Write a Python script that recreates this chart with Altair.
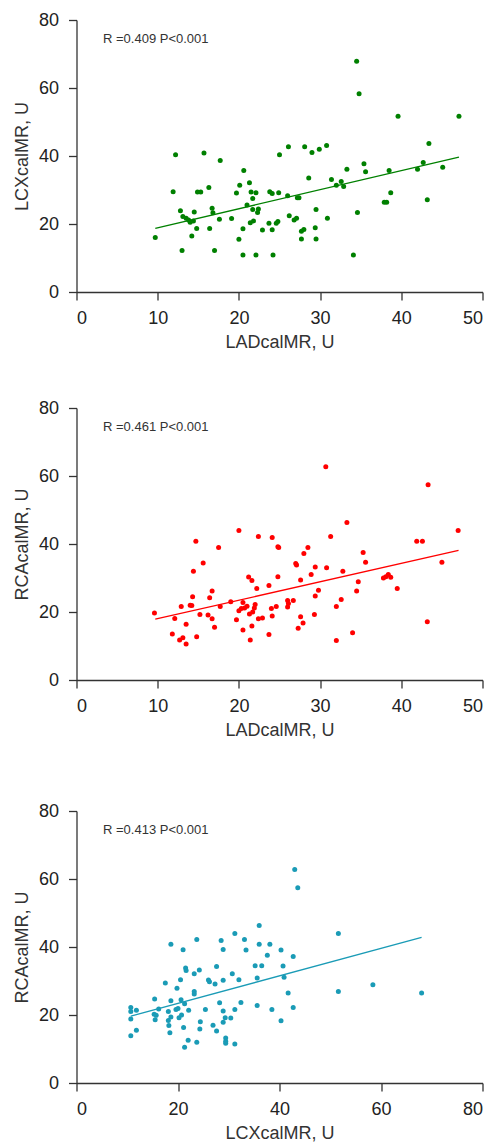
import altair as alt
import pandas as pd

# Panel 1: LADcalMR vs LCXcalMR
lad1 = [9.7, 11.9, 12.2, 12.8, 13.0, 13.1, 13.5, 13.8, 14.0, 14.4, 14.2, 14.5, 14.8, 14.9, 15.3,
        15.7, 16.3, 16.4, 16.7, 16.8, 17.0, 17.6, 17.7, 19.1, 19.7, 20.0, 20.1, 20.5, 20.6, 20.5,
        21.0, 21.3, 21.4, 21.5, 21.7, 21.7, 21.8, 22.1, 22.1, 22.3, 22.4, 22.9, 23.7, 23.8, 24.1,
        24.1, 24.2, 24.6, 24.8, 24.9, 25.0, 26.0, 26.1, 26.2, 26.8, 27.1, 27.2, 27.4, 27.7, 27.7,
        28.0, 28.1, 28.6, 29.0, 29.4, 29.5, 29.5, 29.9, 30.8, 30.9, 31.4, 32.0, 32.6, 32.9, 33.3,
        34.1, 34.5, 34.6, 34.8, 35.4, 35.6, 37.9, 38.2, 38.5, 38.7, 39.6, 42.0, 42.7, 43.2, 43.4,
        45.1, 47.1]
lcx1 = [16.0, 29.5, 40.4, 23.9, 12.2, 22.2, 21.7, 21.2, 20.5, 20.9, 16.5, 23.5, 18.7, 29.4, 29.4,
        40.9, 30.7, 18.7, 24.6, 23.3, 12.2, 21.4, 38.7, 21.6, 29.1, 15.5, 31.4, 18.6, 35.7, 10.9,
        25.6, 32.1, 20.4, 29.4, 27.5, 24.3, 20.9, 29.2, 10.9, 23.4, 24.4, 18.2, 20.2, 29.5, 29.0,
        18.3, 10.9, 20.2, 20.7, 29.2, 40.4, 28.3, 42.7, 22.4, 21.2, 21.7, 27.7, 27.7, 17.9, 15.6,
        18.4, 42.7, 33.5, 41.0, 18.9, 24.3, 15.6, 42.0, 43.1, 21.7, 33.1, 31.4, 32.5, 31.0, 36.1,
        10.9, 67.9, 23.4, 58.3, 37.7, 35.4, 26.4, 26.4, 35.7, 29.2, 51.7, 36.1, 38.1, 27.1, 43.7,
        36.7, 51.7]
fit1_x = [9.7, 47.1]
fit1_y = [18.7, 39.7]

# Panel 2: LADcalMR vs RCAcalMR
lad2 = [9.6, 11.8, 12.1, 12.7, 12.9, 13.1, 13.5, 13.5, 14.0, 14.2, 14.3, 14.4, 14.7, 14.8, 15.2,
        15.6, 16.2, 16.4, 16.7, 16.7, 17.0, 17.5, 17.7, 19.0, 19.7, 20.0, 20.0, 20.3, 20.5, 20.5,
        20.7, 21.0, 21.2, 21.3, 21.4, 21.6, 21.6, 21.7, 21.9, 22.0, 22.2, 22.4, 22.4, 22.9, 23.7,
        23.7, 24.0, 24.1, 24.1, 24.6, 24.8, 24.8, 24.9, 26.0, 26.0, 26.1, 26.7, 27.0, 27.1, 27.3,
        27.6, 27.6, 27.9, 28.0, 28.5, 28.9, 29.3, 29.4, 29.4, 29.8, 30.7, 30.8, 31.3, 32.0, 32.0,
        32.6, 32.8, 33.3, 34.0, 34.5, 34.7, 35.3, 35.6, 37.8, 38.1, 38.4, 38.7, 39.5, 41.9, 42.6,
        43.3, 43.2, 45.0, 47.0]
rca2 = [19.7, 13.5, 18.1, 11.8, 21.6, 12.4, 16.4, 10.6, 22.0, 21.9, 24.5, 32.0, 40.8, 12.7, 19.3,
        34.4, 19.1, 24.2, 18.0, 26.2, 15.5, 39.0, 21.6, 23.0, 17.7, 44.0, 20.4, 21.0, 22.8, 14.7,
        21.2, 21.7, 30.3, 19.4, 11.8, 29.3, 15.9, 20.0, 21.2, 22.2, 26.9, 42.2, 18.0, 18.2, 27.8,
        13.4, 21.0, 41.9, 18.8, 21.6, 30.4, 39.2, 39.0, 23.4, 21.5, 22.5, 23.4, 34.3, 33.8, 15.2,
        29.4, 18.6, 16.8, 37.2, 39.0, 31.0, 19.3, 24.7, 33.2, 26.4, 62.7, 33.0, 42.2, 21.6, 11.6,
        23.7, 32.0, 46.3, 13.9, 26.2, 28.9, 37.5, 34.6, 30.0, 30.4, 31.0, 30.2, 26.9, 40.8, 40.8,
        57.4, 17.1, 34.6, 44.0]
fit2_x = [9.7, 47.05]
fit2_y = [17.9, 38.1]

# Panel 3: LCXcalMR vs RCAcalMR
lcx3 = [10.7, 10.7, 10.7, 10.7, 11.8, 11.8, 15.4, 15.3, 15.5, 15.7, 16.2, 17.5, 18.1, 18.1, 18.2,
        18.4, 18.6, 18.6, 18.6, 19.8, 19.6, 20.0, 20.2, 20.5, 20.6, 20.7, 21.0, 21.1, 21.3, 21.3,
        21.5, 21.6, 22.0, 22.1, 23.2, 23.2, 23.2, 23.7, 23.7, 24.2, 24.3, 24.4, 25.4, 26.0, 26.2,
        26.9, 27.3, 27.6, 27.6, 28.2, 28.5, 28.9, 28.9, 28.9, 28.9, 29.3, 29.4, 29.4, 29.4, 30.4,
        30.7, 31.2, 31.2, 31.2, 32.0, 32.4, 33.1, 33.4, 35.2, 35.6, 35.6, 36.0, 36.0, 36.5, 37.6,
        38.1, 38.5, 40.3, 40.3, 40.7, 40.9, 41.7, 42.7, 42.7, 43.0, 43.6, 51.6, 51.6, 58.4, 68.0]
rca3 = [22.2, 21.0, 18.8, 13.9, 21.4, 15.5, 24.7, 20.2, 18.6, 19.9, 21.8, 29.4, 21.0, 18.4, 16.9,
        14.8, 40.8, 24.2, 19.4, 27.9, 21.6, 21.9, 19.2, 30.4, 24.5, 20.0, 39.2, 16.3, 23.3, 10.5,
        33.8, 33.1, 12.6, 21.4, 32.1, 26.9, 26.2, 42.2, 12.0, 33.2, 15.9, 18.0, 21.6, 30.3, 29.8,
        17.0, 29.1, 34.3, 15.3, 23.6, 41.9, 39.3, 30.2, 21.2, 17.9, 19.2, 13.2, 12.3, 11.7, 19.1,
        32.1, 44.0, 21.6, 11.5, 30.4, 23.7, 42.2, 39.1, 34.5, 30.9, 22.8, 46.3, 40.8, 34.5, 37.6,
        40.8, 21.6, 39.1, 18.3, 34.4, 31.1, 26.5, 37.2, 22.2, 62.8, 57.4, 44.0, 26.9, 28.9, 26.5]
fit3_x = [10.7, 68.0]
fit3_y = [19.7, 42.8]

annotations = ["R =0.409 P<0.001", "R =0.461 P<0.001", "R =0.413 P<0.001"]
x_titles = ["LADcalMR, U", "LADcalMR, U", "LCXcalMR, U"]
y_titles = ["LCXcalMR, U", "RCAcalMR, U", "RCAcalMR, U"]
colors = ["#008000", "#ff0000", "#1a9bb6"]
x_max = [50, 50, 80]
x_ticks = [[0, 10, 20, 30, 40, 50], [0, 10, 20, 30, 40, 50], [0, 20, 40, 60, 80]]
y_ticks = [0, 20, 40, 60, 80]

FONT = "Liberation Sans"
W, H = 406, 272


def panel(xs, ys, fx, fy, i):
    df = pd.DataFrame({"x": xs, "y": ys})
    fit_df = pd.DataFrame({"x": fx, "y": fy})
    xenc = alt.X("x:Q", title=x_titles[i],
                 scale=alt.Scale(domain=[0, x_max[i]], nice=False, zero=True),
                 axis=alt.Axis(values=x_ticks[i]))
    yenc = alt.Y("y:Q", title=y_titles[i],
                 scale=alt.Scale(domain=[0, 80], nice=False),
                 axis=alt.Axis(values=y_ticks))
    pts = alt.Chart(df).mark_circle(size=25, opacity=1, color=colors[i]).encode(x=xenc, y=yenc)
    fit = alt.Chart(fit_df).mark_line(color=colors[i], strokeWidth=1.3).encode(x="x:Q", y="y:Q")
    txt = alt.Chart(pd.DataFrame({"t": [annotations[i]]})).mark_text(
        align="left", baseline="alphabetic", font=FONT, fontSize=13, color="#333333"
    ).encode(x=alt.value(26.5), y=alt.value(22.7), text="t:N")
    return alt.layer(pts, fit, txt).properties(width=W, height=H)


c1 = panel(lad1, lcx1, fit1_x, fit1_y, 0)
c2 = panel(lad2, rca2, fit2_x, fit2_y, 1)
c3 = panel(lcx3, rca3, fit3_x, fit3_y, 2)

chart = alt.vconcat(alt.vconcat(c1, c2, spacing=48), c3, spacing=63).configure_view(
    stroke=None
).configure_axis(
    grid=False,
    domainColor="#333333",
    domainWidth=1.3,
    tickColor="#333333",
    tickWidth=1.3,
    tickSize=8,
    labelFont=FONT,
    labelFontSize=18,
    labelColor="#222222",
    titleFont=FONT,
    titleFontSize=18,
    titleFontWeight="normal",
    titleColor="#333333",
).configure_axisX(
    labelPadding=9,
    titlePadding=6,
).configure_axisY(
    labelPadding=10,
    titlePadding=7,
).properties(
    padding={"left": 4.5, "top": 3, "right": 0, "bottom": 0}
)

chart.save("out.html", embed_options={"renderer": "svg", "actions": False})
